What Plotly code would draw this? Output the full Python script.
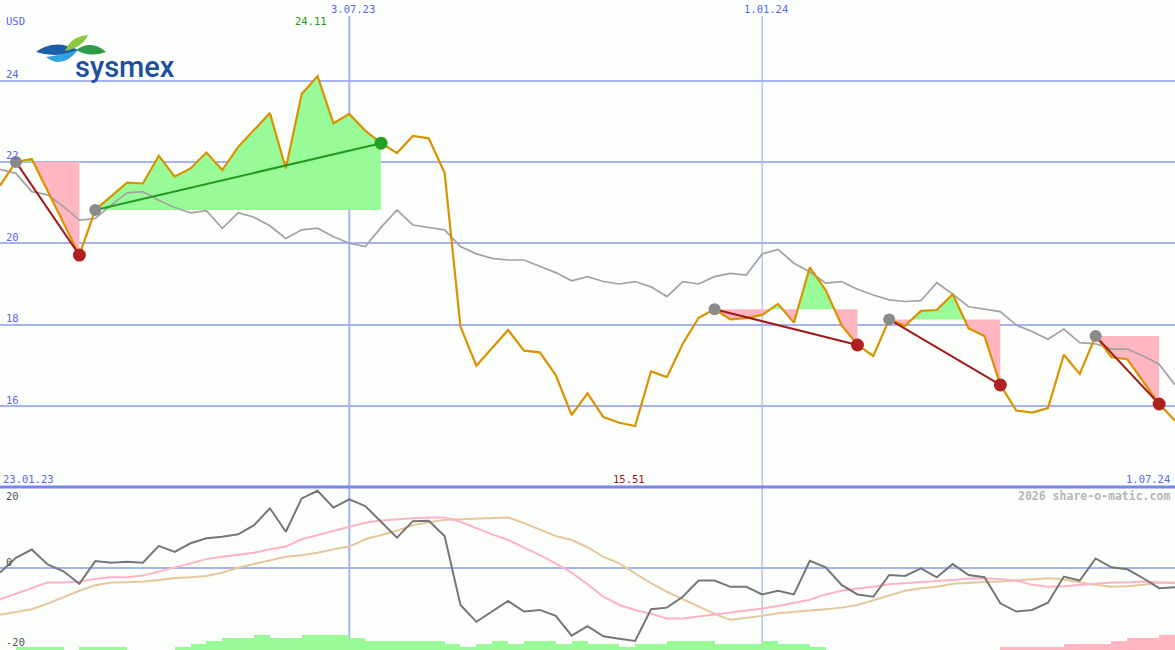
import plotly.graph_objects as go

# ---- weekly data: 23.01.23 ... 1.07.24 (75 weeks) ----
weeks = list(range(75))

price = [21.42, 22.00, 22.07, 21.28, 20.48, 19.71, 20.82, 21.15, 21.49, 21.47,
         22.15, 21.64, 21.84, 22.23, 21.80, 22.37, 22.78, 23.20, 21.84, 23.67,
         24.11, 22.95, 23.18, 22.77, 22.46, 22.22, 22.64, 22.58, 21.73, 17.95,
         16.99, 17.42, 17.87, 17.36, 17.32, 16.76, 15.78, 16.31, 15.73, 15.59,
         15.51, 16.85, 16.71, 17.53, 18.17, 18.38, 18.13, 18.16, 18.24, 18.51,
         18.05, 19.41, 18.85, 17.99, 17.50, 17.23, 18.13, 17.97, 18.34, 18.36,
         18.75, 17.91, 17.72, 16.52, 15.89, 15.84, 15.95, 17.26, 16.79, 17.72,
         17.20, 17.15, 16.60, 16.05, 15.64]

avg = [21.82, 21.72, 21.27, 21.19, 20.90, 20.57, 20.61, 20.94, 21.24, 21.27,
       21.06, 20.88, 20.75, 20.80, 20.37, 20.75, 20.64, 20.43, 20.12, 20.33,
       20.37, 20.16, 20.00, 19.92, 20.39, 20.82, 20.45, 20.39, 20.33, 19.92,
       19.74, 19.63, 19.59, 19.59, 19.44, 19.28, 19.08, 19.18, 19.06, 19.00,
       19.06, 18.93, 18.69, 19.06, 19.00, 19.18, 19.26, 19.22, 19.74, 19.85,
       19.51, 19.30, 19.02, 19.06, 18.87, 18.73, 18.61, 18.57, 18.59, 19.03,
       18.75, 18.44, 18.38, 18.32, 17.99, 17.83, 17.64, 17.89, 17.56, 17.53,
       17.40, 17.40, 17.23, 17.03, 16.52]

momentum = [-1.5, 3.0, 5.5, 1.0, -1.1, -4.9, 2.0, 1.5, 1.8, 1.5,
            6.6, 4.8, 7.4, 8.9, 9.4, 10.1, 12.9, 18.0, 10.9, 21.0,
            23.3, 18.2, 20.7, 18.7, 13.9, 9.1, 14.1, 14.2, 9.6, -11.3,
            -16.4, -13.3, -10.1, -13.3, -12.8, -14.6, -20.6, -17.7, -20.8, -21.5,
            -22.2, -12.6, -12.1, -8.8, -3.9, -3.9, -5.8, -5.8, -8.1, -7.0,
            -8.1, 2.1, 0.1, -5.2, -8.1, -8.8, -2.2, -2.5, -0.2, -2.9,
            1.1, -2.2, -2.9, -10.8, -13.3, -12.8, -10.6, -2.7, -3.9, 2.8,
            0.1, -0.5, -3.2, -6.2, -5.9]

signal_fast = [-9.6, -7.9, -6.0, -4.5, -4.5, -4.2, -3.4, -2.9, -2.9, -2.4,
               -1.2, 0.1, 1.3, 2.6, 3.3, 3.8, 4.5, 5.6, 6.4, 8.6,
               9.9, 11.2, 12.4, 13.6, 14.3, 14.7, 15.0, 15.2, 15.2, 13.9,
               11.9, 10.1, 8.4, 6.2, 3.8, 1.3, -1.5, -5.0, -8.8, -11.3,
               -12.8, -14.0, -15.4, -15.4, -14.8, -14.2, -13.8, -13.0, -12.4, -11.6,
               -10.6, -9.7, -8.1, -7.0, -6.3, -5.8, -5.0, -4.7, -4.5, -4.2,
               -3.7, -3.3, -3.2, -3.5, -3.9, -5.2, -5.8, -5.6, -5.2, -4.7,
               -4.5, -4.5, -4.2, -4.5, -4.7]

signal_slow = [-14.3, -13.4, -12.6, -10.9, -8.9, -7.0, -5.3, -4.5, -4.4, -4.2,
               -3.7, -3.1, -2.9, -2.5, -1.5, 0.0, 1.1, 2.3, 3.3, 3.8,
               4.5, 5.6, 6.4, 8.6, 9.9, 11.2, 12.9, 13.8, 14.5, 14.7,
               14.9, 15.1, 15.2, 13.5, 11.6, 9.6, 8.4, 6.2, 3.3, 1.3,
               -1.7, -4.7, -7.3, -9.6, -11.8, -14.0, -15.8, -15.3, -14.6, -13.8,
               -13.3, -13.0, -12.6, -12.1, -11.3, -9.8, -8.3, -7.0, -6.2, -5.8,
               -4.9, -4.5, -4.3, -4.2, -3.9, -3.7, -3.2, -3.5, -4.5, -5.2,
               -5.8, -5.6, -5.2, -4.5, -4.5]

# strength bars, one per week interval
strength = [0, 1, 1, 1, 0, 1, 1, 1, 0, 0, 0, 1, 2, 3, 4, 4, 5, 4, 4, 5,
            5, 5, 4, 3, 3, 3, 3, 3, 2, 1, 2, 3, 2, 3, 3, 2, 3, 2, 2, 1,
            2, 2, 3, 3, 3, 2, 2, 2, 3, 2, 2, 1, 0, 0, 0, 0, 0, 0, 0, 0,
            0, 0, 0, -1, -1, -1, -1, -2, -2, -2, -3, -4, -4, -5]

# (buy week, sell week)
trades = [(1, 5), (6, 24), (45, 54), (56, 63), (69, 73)]

price_ticks = [16, 18, 20, 22, 24]
date_marks = [(22, "3.07.23"), (48, "1.01.24")]

# ---- styling ----
W, H = 1175, 650
BG = "#FCFEFC"
GRID = "#A6B3F2"
BLUE_TXT = "#5866EE"
GREEN_FILL = "#98FB98"
PINK_FILL = "#FFB6C1"
ORANGE = "#DA9200"
MONO = "DejaVu Sans Mono"
FS = 10.5


def px(x):
    return x / W


def py(y):
    return 1 - y / H


split = py(487)

fig = go.Figure()

# profit / loss areas between the price and the entry level of each trade
for b, s in trades:
    level = price[b]
    xs, ys = [], []
    for k in range(b, s + 1):
        if k > b:
            p0, p1 = price[k - 1], price[k]
            if (p0 - level) * (p1 - level) < 0:
                t = (level - p0) / (p1 - p0)
                xs.append(k - 1 + t)
                ys.append(level)
        xs.append(k)
        ys.append(price[k])
    upper = [max(v, level) for v in ys]
    lower = [min(v, level) for v in ys]
    for arr, col in ((upper, GREEN_FILL), (lower, PINK_FILL)):
        fig.add_trace(go.Scatter(
            x=xs + [xs[-1], xs[0]], y=arr + [level, level],
            fill="toself", fillcolor=col, mode="lines",
            line=dict(width=0, color=col), hoverinfo="skip",
            showlegend=False, xaxis="x", yaxis="y"))

fig.add_trace(go.Scatter(x=weeks, y=avg, mode="lines",
                         line=dict(color="#A2A2A2", width=1.7),
                         showlegend=False, xaxis="x", yaxis="y"))
fig.add_trace(go.Scatter(x=weeks, y=price, mode="lines",
                         line=dict(color=ORANGE, width=2.2),
                         showlegend=False, xaxis="x", yaxis="y"))

for b, s in trades:
    gain = price[s] >= price[b]
    fig.add_trace(go.Scatter(
        x=[b, s], y=[price[b], price[s]], mode="lines",
        line=dict(color="#229A22" if gain else "#A01C1C", width=2),
        showlegend=False, xaxis="x", yaxis="y"))

fig.add_trace(go.Scatter(
    x=[b for b, s in trades], y=[price[b] for b, s in trades],
    mode="markers", marker=dict(size=12, color="#8A8A8A"),
    showlegend=False, xaxis="x", yaxis="y"))
fig.add_trace(go.Scatter(
    x=[s for b, s in trades], y=[price[s] for b, s in trades],
    mode="markers",
    marker=dict(size=13, color=["#22A022" if price[s] >= price[b] else "#B02020"
                                for b, s in trades]),
    showlegend=False, xaxis="x", yaxis="y"))

# ---- lower panel ----
fig.add_trace(go.Bar(
    x=[k + 0.5 for k in range(len(strength))],
    y=[abs(v) for v in strength], width=1,
    marker=dict(color=[GREEN_FILL if v > 0 else PINK_FILL for v in strength],
                line=dict(width=0)),
    showlegend=False, xaxis="x2", yaxis="y3"))

fig.add_trace(go.Scatter(x=weeks, y=signal_slow, mode="lines",
                         line=dict(color="#E4C89C", width=2),
                         showlegend=False, xaxis="x2", yaxis="y2"))
fig.add_trace(go.Scatter(x=weeks, y=signal_fast, mode="lines",
                         line=dict(color="#FDB2C6", width=2),
                         showlegend=False, xaxis="x2", yaxis="y2"))
fig.add_trace(go.Scatter(x=weeks, y=momentum, mode="lines",
                         line=dict(color="#767676", width=2),
                         showlegend=False, xaxis="x2", yaxis="y2"))

shapes = []
for i, (wk, _) in enumerate(date_marks):
    shapes.append(dict(type="line", xref="x", yref="paper", x0=wk, x1=wk,
                       y0=0, y1=py(16), layer="below",
                       line=dict(color=GRID if i == 0 else "#ABB4E8",
                                 width=2 if i == 0 else 1.2)))
shapes.append(dict(type="line", xref="paper", yref="paper", x0=0, x1=1,
                   y0=split, y1=split, layer="above",
                   line=dict(color="#7886EC", width=3)))


# company logo leaves
def leaf(p0, c1, p1, c2):
    pts = [p0, c1, p1, c2]
    a, b_, c, d = [(px(x), py(y)) for x, y in pts]
    return (f"M {a[0]},{a[1]} Q {b_[0]},{b_[1]} {c[0]},{c[1]} "
            f"Q {d[0]},{d[1]} {a[0]},{a[1]} Z")


for path, col in [
    (leaf((36, 52), (54, 38), (78, 50), (57, 59)), "#1C5CAA"),
    (leaf((46, 57), (63, 55), (78, 50), (62, 70)), "#30A2DE"),
    (leaf((65, 51), (71, 36), (88, 35), (83, 47)), "#8DC641"),
    (leaf((76, 50), (92, 39), (106, 52), (90, 58)), "#2E9B48"),
]:
    shapes.append(dict(type="path", xref="paper", yref="paper", path=path,
                       fillcolor=col, line=dict(width=0), layer="above"))

annotations = []
annotations.append(dict(text="sysmex", xref="paper", yref="paper",
                        x=px(125), y=py(67), xanchor="center", yanchor="middle",
                        showarrow=False,
                        font=dict(family="Roboto", size=29, color="#1D4F9E",
                                  weight=500)))
annotations.append(dict(text="USD", xref="paper", yref="paper", x=px(4),
                        y=py(21), xanchor="left", yanchor="middle",
                        showarrow=False,
                        font=dict(family=MONO, size=FS, color=BLUE_TXT)))
for v in price_ticks:
    annotations.append(dict(text=str(v), xref="paper", yref="y", x=px(4), y=v,
                            xanchor="left", yanchor="middle", yshift=6.5,
                            showarrow=False,
                            font=dict(family=MONO, size=FS, color=BLUE_TXT)))
for wk, lab in date_marks:
    annotations.append(dict(text=lab, xref="x", yref="paper", x=wk, y=py(9),
                            xanchor="center", yanchor="middle", xshift=4,
                            showarrow=False,
                            font=dict(family=MONO, size=FS, color=BLUE_TXT)))

hi = max(range(len(price)), key=lambda i: price[i])
lo = min(range(len(price)), key=lambda i: price[i])
annotations.append(dict(text=f"{price[hi]:.2f}", xref="x", yref="paper", x=hi,
                        y=py(21), xanchor="center", yanchor="middle", xshift=-6.5,
                        showarrow=False,
                        font=dict(family=MONO, size=FS, color="#1E961E")))
annotations.append(dict(text=f"{price[lo]:.2f}", xref="x", yref="paper", x=lo,
                        y=py(479), xanchor="center", yanchor="middle", xshift=-6,
                        showarrow=False,
                        font=dict(family=MONO, size=FS, color="#A01818")))
annotations.append(dict(text="23.01.23", xref="paper", yref="paper", x=px(1),
                        y=py(479), xanchor="left", yanchor="middle",
                        showarrow=False,
                        font=dict(family=MONO, size=FS, color=BLUE_TXT)))
annotations.append(dict(text="1.07.24", xref="paper", yref="paper", x=px(1172),
                        y=py(479), xanchor="right", yanchor="middle",
                        showarrow=False,
                        font=dict(family=MONO, size=FS, color=BLUE_TXT)))
annotations.append(dict(text="2026 share-o-matic.com", xref="paper", yref="paper",
                        x=px(1172), y=py(496), xanchor="right", yanchor="middle",
                        showarrow=False,
                        font=dict(family=MONO, size=11.5, color="#B6B6B6",
                                  weight="bold")))
for v, shift in ((20, 5.7), (0, 5.7), (-20, -8.3)):
    annotations.append(dict(text=str(v), xref="paper", yref="y2", x=px(4), y=v,
                            xanchor="left", yanchor="middle", yshift=shift,
                            showarrow=False,
                            font=dict(family=MONO, size=FS, color="#555555")))

axis_common = dict(showticklabels=False, zeroline=False, ticks="", showline=False)

fig.update_layout(
    width=W, height=H,
    margin=dict(l=0, r=0, t=0, b=0, pad=0),
    paper_bgcolor=BG, plot_bgcolor=BG,
    showlegend=False, bargap=0, barmode="overlay",
    hovermode=False,
    xaxis=dict(domain=[0, 1], range=[0, 74], anchor="y", showgrid=False,
               **axis_common),
    yaxis=dict(domain=[split, 1], range=[14.01, 25.98], anchor="x",
               tickvals=price_ticks, showgrid=True, gridcolor=GRID, gridwidth=2,
               **axis_common),
    xaxis2=dict(domain=[0, 1], range=[0, 74], anchor="y2", showgrid=False,
                **axis_common),
    yaxis2=dict(domain=[0, split], range=[-24.94, 24.45], anchor="x2",
                tickvals=[0], showgrid=True, gridcolor=GRID, gridwidth=2,
                **axis_common),
    yaxis3=dict(overlaying="y2", range=[0, 163 / 3], anchor="x2", visible=False),
    shapes=shapes,
    annotations=annotations,
)

fig.write_html("out.html")
